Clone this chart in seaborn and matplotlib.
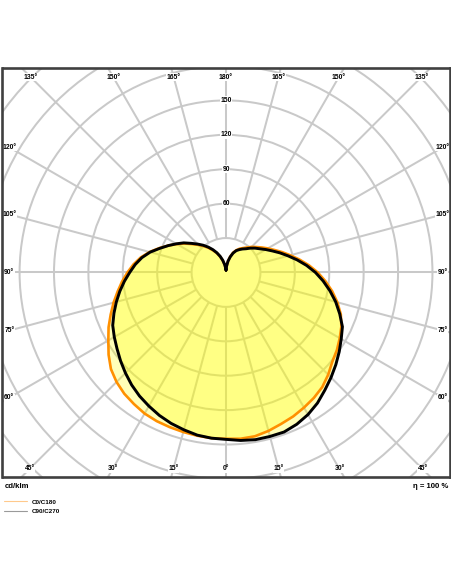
import numpy as np
import pandas as pd
import matplotlib
matplotlib.use("Agg")
import matplotlib.pyplot as plt
import seaborn as sns
from matplotlib.lines import Line2D
from matplotlib.patches import Circle

# ---------------- data (cd/klm) ----------------
gamma = list(range(0, 181, 5))
c0 = [145, 145.5, 145, 143, 140.5, 138.5, 136, 133.5, 130.5, 126, 121, 118, 114.5, 111, 106.5,
      100.5, 94, 87, 80, 72.5, 65, 58, 52, 46.5, 42, 38, 34.5, 31.5, 28.5, 26, 24, 21.5, 18.5,
      14.5, 10, 5.5, 2]
c180 = [145, 145, 144.5, 144, 143.5, 143, 142, 140, 138, 135, 131, 125, 118.5, 113, 107,
        101.5, 96, 91, 86, 81, 75.5, 69, 62, 55.5, 49.5, 44, 38.5, 34, 30, 26, 22, 18.5, 14.5,
        10.5, 7, 4, 2]
c90 = [145.5, 147, 148, 148, 148, 146, 143, 139, 134, 129.5, 125, 120.5, 116, 112, 105.5,
       99, 92, 85, 78, 70.5, 63, 56, 50, 44.5, 40, 36, 33, 30, 27, 25, 23, 21, 18, 14, 10,
       5.5, 2]
c270 = [145.5, 145, 144, 142, 140, 137.5, 134.5, 131.5, 128, 124, 120, 116, 112.5, 109, 104,
        99, 94, 89, 84, 79.5, 74.5, 68.5, 61.5, 55.5, 50, 45, 39.5, 35, 31, 27, 23, 19, 15, 11,
        7, 4, 2]

series_names = ["C0/C180", "C90/C270"]
ring_values = [30, 60, 90, 120, 150, 180, 210, 240, 270]
ring_labels = [60, 90, 120, 150]
angle_bottom = [0, 15, 30, 45]
angle_side = [60, 75, 90, 105, 120]
angle_top = [135, 150, 165, 180]
efficiency = "η = 100 %"
unit = "cd/klm"

# ---------------- figure ----------------
sns.set_theme(style="white")
plt.rcParams['font.family'] = ['Liberation Sans', 'DejaVu Sans']
plt.rcParams['text.color'] = 'black'

W, H = 452, 584
fig = plt.figure(figsize=(W / 100, H / 100), dpi=100)
fig.patch.set_facecolor("white")

fl, fr, ft, fb = 2.5, 450, 67.5, 477
ax = fig.add_axes([fl / W, 1 - fb / H, (fr - fl) / W, (fb - ft) / H])
ax.set_xlim(-194.9, 195.3)
ax.set_ylim(-178.3, 178.7)
ax.set_xticks([]); ax.set_yticks([])
for s in ax.spines.values():
    s.set_color("#404040"); s.set_linewidth(1.9); s.set_zorder(10)
ax.set_facecolor("white")

grid_c = "#c9c9c9"
for rv in ring_values:
    ax.add_patch(Circle((0, 0), rv, fill=False, ec=grid_c, lw=1.45, zorder=1))
for a in range(0, 360, 15):
    t = np.deg2rad(a)
    ax.plot([30 * np.sin(t), 320 * np.sin(t)], [-30 * np.cos(t), -320 * np.cos(t)],
            color=grid_c, lw=1.45, zorder=1, solid_capstyle="butt")


def loop(left, right):
    g = np.deg2rad(np.array(gamma, dtype=float))
    l = np.array(left, dtype=float); r = np.array(right, dtype=float)
    xs = np.concatenate([-(l * np.sin(g))[::-1], (r * np.sin(g))])
    ys = np.concatenate([-(l * np.cos(g))[::-1], -(r * np.cos(g))])
    return pd.DataFrame({"x": xs, "y": ys})


d1 = loop(c180, c0)
d2 = loop(c270, c90)
for d in (d1, d2):
    ax.fill(d["x"], d["y"], color="#ffff00", alpha=0.28, lw=0, zorder=2)

sns.lineplot(data=d1, x="x", y="y", sort=False, estimator=None, color="#ff9000",
             lw=1.9, ax=ax, zorder=3)
sns.lineplot(data=d2, x="x", y="y", sort=False, estimator=None, color="#000000",
             lw=2.1, ax=ax, zorder=4)
ax.set_xlabel(""); ax.set_ylabel("")
ax.set_xlim(-194.9, 195.3)
ax.set_ylim(-178.3, 178.7)
ax.set_aspect("auto")

bb = dict(fc="white", ec="none", pad=0.4)
lab_fs = 4.9
fw = "bold"
tc = "black"
# bottom
yb = -171.3
for a in angle_bottom:
    for sgn in ([0] if a == 0 else [-1, 1]):
        x = sgn * abs(yb) * np.tan(np.deg2rad(a))
        ax.text(x, yb, f"{a}°", fontsize=lab_fs, fontweight=fw, color=tc, ha="center",
                va="center", bbox=bb, zorder=6)
# top
yt = 170.4
for a in angle_top:
    for sgn in ([0] if a == 180 else [-1, 1]):
        x = sgn * yt * np.tan(np.deg2rad(180 - a))
        ax.text(x, yt, f"{a}°", fontsize=lab_fs, fontweight=fw, color=tc, ha="center",
                va="center", bbox=bb, zorder=6)
# sides
xs_ = 189.0
for a in angle_side:
    y = -xs_ * np.cos(np.deg2rad(a)) / np.sin(np.deg2rad(a))
    for sgn in (-1, 1):
        ax.text(sgn * xs_, y, f"{a}°", fontsize=lab_fs, fontweight=fw, color=tc, ha="center",
                va="center", bbox=bb, zorder=6)
# ring labels
for rv in ring_labels:
    ax.text(0, rv, f"{rv}", fontsize=lab_fs, fontweight=fw, color=tc, ha="center",
            va="center", bbox=bb, zorder=6)

# texts below
fig.text(5 / W, 1 - 486 / H, unit, fontsize=5.6, fontweight=fw, color=tc, ha="left",
         va="center")
fig.text(448 / W, 1 - 486 / H, efficiency, fontsize=5.6, fontweight=fw, color=tc,
         ha="right", va="center")

leg_cols = ["#ffc98c", "#9a9a9a"]
for i, (name, c) in enumerate(zip(series_names, leg_cols)):
    yy = 1 - (501 + i * 9.5) / H
    fig.add_artist(Line2D([4 / W, 27 / W], [yy, yy], transform=fig.transFigure, color=c, lw=0.8))
    fig.text(32 / W, 1 - (502 + i * 9.5) / H, name, fontsize=4.5, fontweight=fw, color=tc,
             ha="left", va="center")

fig.savefig("out.png", dpi=100, facecolor="white")
